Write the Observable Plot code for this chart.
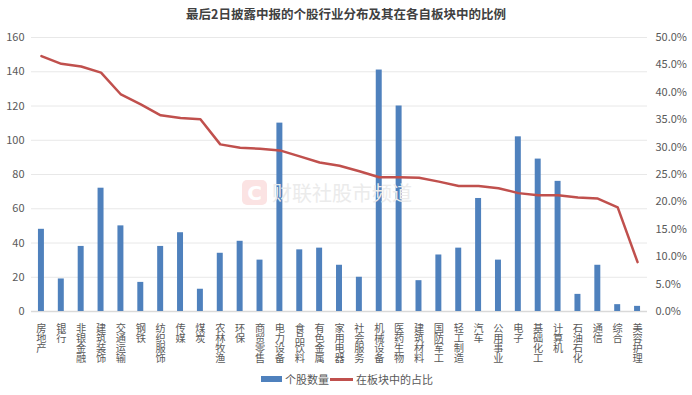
<!DOCTYPE html>
<html><head><meta charset="utf-8">
<script src="https://cdn.jsdelivr.net/npm/d3@7"></script>
<script src="https://cdn.jsdelivr.net/npm/@observablehq/plot@0.6"></script>
<style>
body{margin:0;background:#fff;font-family:"Noto Sans CJK SC","Noto Sans",sans-serif;}
#wrap{position:relative;width:692px;height:395px;overflow:hidden;background:#fff}
#title{height:28px;line-height:28px;text-align:center;font-size:12.5px;font-weight:bold;color:#404040;}
#legend{position:absolute;left:0;top:371px;width:692px;height:16px;font-size:11px;color:#595959}
.wm{position:absolute;left:242px;top:178px;display:flex;align-items:center;pointer-events:none}
</style></head>
<body>
<div id="wrap">
<div id="title">最后2日披露中报的个股行业分布及其在各自板块中的比例</div>
<div id="chart"></div>
<div class="wm">
  <div style="width:25px;height:25px;border-radius:5px;background:#fbe3e3;color:#fff;font:bold 20px 'DejaVu Sans';display:flex;align-items:center;justify-content:center">C</div>
  <div style="margin-left:5px;font-size:20px;color:#ebebeb;letter-spacing:0px">财联社股市频道</div>
</div>
<div id="legend">
  <span style="position:absolute;left:261px;top:5px;width:21px;height:6px;background:#4f81bd"></span>
  <span style="position:absolute;left:285px;top:0px;line-height:16px">个股数量</span>
  <span style="position:absolute;left:330px;top:7px;width:23px;height:2.5px;background:#c0504d"></span>
  <span style="position:absolute;left:356px;top:0px;line-height:16px">在板块中的占比</span>
</div>
</div>
<script>
const categories = ["房地产","银行","非银金融","建筑装饰","交通运输","钢铁","纺织服饰","传媒","煤炭","农林牧渔","环保","商贸零售","电力设备","食品饮料","有色金属","家用电器","社会服务","机械设备","医药生物","建筑材料","国防军工","轻工制造","汽车","公用事业","电子","基础化工","计算机","石油石化","通信","综合","美容护理"];
const counts = [48,19,38,72,50,17,38,46,13,34,41,30,110,36,37,27,20,141,120,18,33,37,66,30,102,89,76,10,27,4,3];
const shares = [46.6,45.2,44.7,43.6,39.6,37.8,35.8,35.3,35.1,30.5,29.9,29.7,29.4,28.3,27.2,26.6,25.6,24.5,24.5,24.4,23.7,22.9,22.9,22.5,21.6,21.2,21.2,20.8,20.6,19.0,9.0];
const leftTicks = [0,20,40,60,80,100,120,140,160];
const rightTicks = [0,5,10,15,20,25,30,35,40,45,50];

const k = 160/50;
const data = categories.map((c,i)=>({cat:c,count:counts[i],share:shares[i]}));

// vertical category labels: one character per row, stacked under the bar
const labelRows = [0,1,2,3].map(r =>
  Plot.text(data.filter(d=>d.cat.length>r), {
    x:"cat", y:()=>0, text:d=>d.cat[r],
    textAnchor:"start", dy:7.8 + r*10.2, fontSize:10.2, fill:"#595959"
  })
);

const chart = Plot.plot({
  width:692, height:342,
  marginTop:9, marginBottom:59, marginLeft:31, marginRight:45,
  style:{fontFamily:"'Noto Sans CJK SC','Noto Sans',sans-serif", background:"transparent", color:"#595959"},
  x:{domain:categories, padding:0, round:false, label:null, axis:null},
  y:{domain:[0,160], label:null},
  marks:[
    Plot.gridY(leftTicks.filter(d=>d>0), {stroke:"#e8e8e8", strokeOpacity:1}),
    Plot.ruleY([0], {stroke:"#d9d9d9", strokeWidth:1.5}),
    Plot.barY(data, {x:"cat", y:"count", fill:"#4f81bd", insetLeft:6.95, insetRight:6.95}),
    Plot.lineY(data, {x:"cat", y:d=>d.share*k, stroke:"#c0504d", strokeWidth:2.5}),
    Plot.axisY({anchor:"left", ticks:leftTicks, tickSize:0, tickPadding:7, fontSize:11, fill:"#595959"}),
    Plot.axisY({anchor:"right", ticks:rightTicks.map(d=>d*k), tickFormat:d=>(d/k).toFixed(1)+"%", tickSize:0, tickPadding:8, fontSize:11, fill:"#595959"}),
    ...labelRows
  ]
});
chart.querySelectorAll('g[aria-label="text"] text').forEach(t => {
  t.removeAttribute("dy");
  t.style.writingMode = "vertical-rl";
  t.style.textOrientation = "upright";
  t.setAttribute("text-anchor", "start");
});
document.getElementById("chart").appendChild(chart);
</script>
</body></html>
